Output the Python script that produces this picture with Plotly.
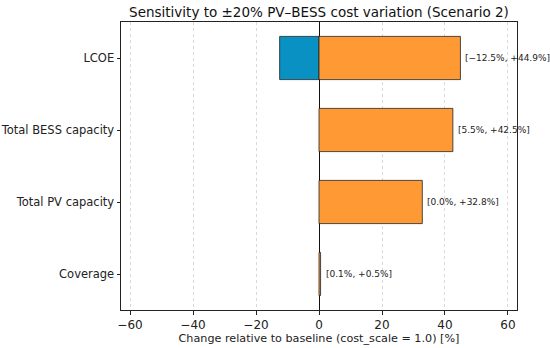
import plotly.graph_objects as go

categories = ["LCOE", "Total BESS capacity", "Total PV capacity", "Coverage"]
low_values = [-12.5, 5.5, 0.0, 0.1]
high_values = [44.9, 42.5, 32.8, 0.5]

def fmt(v, plus):
    s = f"{abs(v):.1f}%"
    if v < 0:
        return "\u2212" + s
    return ("+" + s) if plus else s

labels = [f"[{fmt(l, False)}, {fmt(h, True)}]" for l, h in zip(low_values, high_values)]

FONT = "DejaVu Sans"
orange = "#ff9933"
blue = "#0a91c4"

fig = go.Figure()
fig.add_trace(go.Bar(
    y=categories, x=[v if v < 0 else None for v in low_values], orientation="h", width=0.6,
    marker=dict(color=blue, line=dict(color="#222222", width=0.8)),
    showlegend=False, hoverinfo="skip",
))
fig.add_trace(go.Bar(
    y=categories, x=high_values, orientation="h", width=0.6,
    marker=dict(color=orange, line=dict(color="#222222", width=0.8)),
    showlegend=False, hoverinfo="skip",
))

for c, h, lab in zip(categories, high_values, labels):
    fig.add_annotation(x=max(h, 0), y=c, text=lab, showarrow=False,
                       xanchor="left", yanchor="middle", xshift=3,
                       font=dict(family=FONT, size=9, color="#222222"))

fig.update_layout(
    width=550, height=348,
    margin=dict(l=121, r=33, t=22, b=38, autoexpand=False),
    paper_bgcolor="white", plot_bgcolor="white",
    barmode="overlay",
    title=dict(text="Sensitivity to \u00b120% PV\u2013BESS cost variation (Scenario 2)",
               x=(121 + 517) / 2 / 550, xanchor="center", y=1 - 12 / 348, yanchor="middle",
               font=dict(family=FONT, size=13.5, color="#111111")),
    font=dict(family=FONT, color="#222222"),
)
fig.update_xaxes(
    range=[-62.86, 62.86], tickvals=[-60, -40, -20, 0, 20, 40, 60],
    automargin=False,
    showgrid=True, gridcolor="#d9d9d9", griddash="dot", gridwidth=0.8,
    zeroline=True, zerolinecolor="#111111", zerolinewidth=1,
    showline=True, linecolor="#222222", linewidth=1, mirror=True,
    ticks="outside", ticklen=3.5, tickcolor="#222222",
    tickfont=dict(family=FONT, size=12, color="#222222"),
    title=dict(text="Change relative to baseline (cost_scale = 1.0) [%]", standoff=2,
               font=dict(family=FONT, size=11.2, color="#222222")),
)
fig.update_yaxes(
    categoryorder="array", categoryarray=categories[::-1],
    range=[-0.5, 3.5], automargin=False,
    showgrid=False, zeroline=False,
    showline=True, linecolor="#222222", linewidth=1, mirror=True,
    ticks="outside", ticklen=3.5, tickcolor="#222222",
    tickfont=dict(family=FONT, size=11.5, color="#222222"),
)

fig.write_html("out.html", config={"displayModeBar": False},
               post_script="document.body.style.margin='0';")
